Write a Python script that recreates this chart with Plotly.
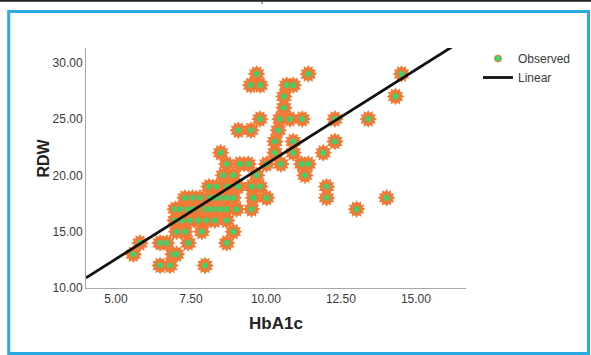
import plotly.graph_objects as go

# ---- data ----
hba1c = [
    9.69, 11.41, 14.52,
    9.49, 9.81, 10.69, 10.91,
    10.6, 14.32,
    10.6,
    9.8, 10.47, 10.8, 11.21, 12.3, 13.41,
    9.08, 9.5, 10.41,
    10.3, 10.91, 12.3,
    8.49, 10.3, 10.91, 11.91,
    8.69, 9.13, 9.41, 10.02, 10.5, 11.19, 11.41,
    8.58, 8.91, 9.69, 11.3,
    8.36, 8.72, 9.08, 9.52, 9.8, 12.02, 8.1,
    7.3, 7.8, 8.13, 8.47, 8.91, 9.58, 10.02, 12.02, 14.02, 7.55, 8.3, 8.7,
    6.97, 7.41, 7.97, 8.3, 8.69, 9.02, 9.52, 13.02, 7.15, 7.6, 8.1, 8.5,
    6.97, 7.47, 8.02, 8.69, 7.2, 7.75, 8.3,
    7.02, 7.86, 8.91, 7.3,
    5.8, 6.47, 6.69, 7.41, 8.69,
    5.58, 6.9, 7.02,
    6.47, 6.8, 7.97,
]
rdw = (
    [29] * 3 + [28] * 4 + [27] * 2 + [26] * 1 + [25] * 6 + [24] * 3 + [23] * 3
    + [22] * 4 + [21] * 7 + [20] * 4 + [19] * 7 + [18] * 12 + [17] * 12
    + [16] * 7 + [15] * 4 + [14] * 5 + [13] * 3 + [12] * 3
)

# linear fit
fit_intercept = 4.18
fit_slope = 1.68

x_range = [4.0, 16.67]
y_range = [10.0, 31.3]
x_ticks = [5.0, 7.5, 10.0, 12.5, 15.0]
y_ticks = [10.0, 15.0, 20.0, 25.0, 30.0]

ORANGE = "#F07A36"
GREEN = "#3DD26A"

W, H = 591, 355
L, R, T, B = 86, 466, 48, 288  # plot area in pixels


def px_to_paper(px, py):
    return (px - L) / (R - L), (B - py) / (B - T)


fig = go.Figure()

# star rays (two rotated hexagrams -> 12-point burst)
fig.add_trace(go.Scatter(
    x=hba1c, y=rdw, mode="markers", showlegend=False, hoverinfo="skip",
    marker=dict(symbol="hexagram", size=13.5, color=ORANGE, angle=30, line=dict(width=0)),
))
fig.add_trace(go.Scatter(
    x=hba1c, y=rdw, mode="markers", showlegend=False, hoverinfo="skip",
    marker=dict(symbol="hexagram", size=13.5, color=ORANGE, line=dict(width=0)),
))
fig.add_trace(go.Scatter(
    x=hba1c, y=rdw, mode="markers", name="Observed",
    marker=dict(symbol="circle", size=7, color=GREEN, line=dict(width=1, color=ORANGE)),
))

line_x = x_range
line_y = [fit_intercept + fit_slope * v for v in line_x]
fig.add_trace(go.Scatter(
    x=line_x, y=line_y, mode="lines", name="Linear",
    line=dict(color="#111111", width=2.8),
))

axis_common = dict(
    showgrid=False, zeroline=False, showline=True, linecolor="#A8A8A8", linewidth=1,
    ticks="", tickfont=dict(family="Liberation Sans, Arial, sans-serif", size=12, color="#3A3A3A"),
    tickformat=".2f",
)
fig.update_xaxes(range=x_range, tickvals=x_ticks, **axis_common)
fig.update_yaxes(range=y_range, tickvals=y_ticks, **axis_common)

# frame decorations: blue border and top rule
bx0, by0 = px_to_paper(8.7, 11.5)
bx1, by1 = px_to_paper(588.5, 353.5)
tx0, ty0 = px_to_paper(0, 0.8)
tx1, _ = px_to_paper(591, 0.8)
vx, vy0 = px_to_paper(262, 0)
_, vy1 = px_to_paper(262, 4)
fig.update_layout(shapes=[
    dict(type="rect", xref="paper", yref="paper", x0=bx0, y0=by0, x1=bx1, y1=by1,
         line=dict(color="#2BAAE2", width=3), layer="below"),
    dict(type="line", xref="paper", yref="paper", x0=tx0, y0=ty0, x1=tx1, y1=ty0,
         line=dict(color="#222222", width=2)),
    dict(type="line", xref="paper", yref="paper", x0=vx, y0=vy0, x1=vx, y1=vy1,
         line=dict(color="#444444", width=1)),
])

ryx, ryy = px_to_paper(32, 158)
hbx, hby = px_to_paper(276, 335)
fig.update_layout(annotations=[
    dict(text="<b>RDW</b>", xref="paper", yref="paper", x=ryx, y=ryy, textangle=-90,
         showarrow=False, font=dict(family="Liberation Sans, Arial, sans-serif", size=16, color="#222222")),
    dict(text="<b>HbA1c</b>", xref="paper", yref="paper", x=hbx, y=hby,
         showarrow=False, font=dict(family="Liberation Sans, Arial, sans-serif", size=17, color="#222222")),
])

fig.update_layout(
    width=W, height=H,
    margin=dict(l=L, r=W - R, t=T, b=H - B, pad=0),
    paper_bgcolor="white", plot_bgcolor="white",
    showlegend=True,
    legend=dict(
        xref="container", yref="container", x=478 / W, y=1 - 44 / H,
        xanchor="left", yanchor="top", bgcolor="rgba(0,0,0,0)",
        font=dict(family="Liberation Sans, Arial, sans-serif", size=12, color="#3A3A3A"),
        itemwidth=30, tracegroupgap=0,
    ),
)

fig.write_html(
    "out.html",
    config={"displayModeBar": False},
    post_script="document.body.style.margin='0';document.body.style.padding='0';",
)
